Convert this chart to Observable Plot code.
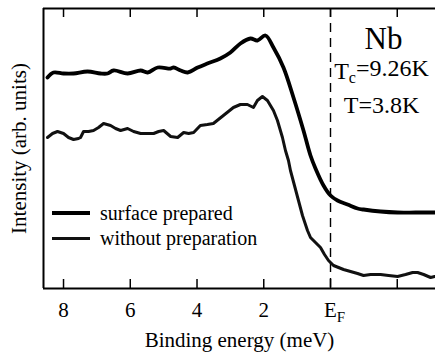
<!DOCTYPE html>
<html><head><meta charset="utf-8">
<script src="https://cdn.jsdelivr.net/npm/d3@7"></script>
<script src="https://cdn.jsdelivr.net/npm/@observablehq/plot@0.6"></script>
<style>
body{margin:0;background:#fff;}
#wrap{position:relative;width:435px;height:353px;font-family:'Liberation Serif',serif;}
#legend{position:absolute;left:52px;top:200.5px;font-size:20px;color:#000;font-family:'Liberation Serif',serif;}
#legend .row{display:flex;align-items:center;height:25px;line-height:25px;white-space:nowrap;}
#legend .sw{width:38px;margin-right:10px;}
</style></head><body><div id="wrap"></div>
<script>
// Binding energy (meV) and intensity (arb. units)
const energySurface = [8.48,8.30,8.00,7.70,7.28,6.89,6.68,6.50,6.08,5.69,5.48,5.18,4.79,4.70,4.49,4.28,3.98,3.69,3.30,3.00,2.70,2.40,2.19,1.95,1.71,1.41,1.11,0.81,0.60,0.45,0.21,0.00,-0.21,-0.51,-0.81,-0.99,-1.50,-2.01,-2.55,-3.12];
const intensitySurface = [211,216,215,215,217,215,215,218,215,218,216,221,220,221,218,216,221,225,230,236,245,250,248,253,241,221,191,158,133,120,103,93,88,84,80,79,77,76,76,76];
const energyRaw = [8.48,8.33,8.18,8.00,7.85,7.70,7.55,7.49,7.40,7.25,7.10,6.95,6.80,6.59,6.44,6.29,6.08,5.90,5.69,5.48,5.30,5.15,5.00,4.79,4.58,4.40,4.25,4.10,3.90,3.69,3.51,3.36,3.21,3.06,2.91,2.70,2.49,2.31,2.19,2.04,1.89,1.71,1.59,1.44,1.35,1.26,1.20,1.08,0.96,0.84,0.69,0.60,0.45,0.30,0.18,0.06,-0.09,-0.24,-0.39,-0.60,-0.81,-0.99,-1.20,-1.50,-1.74,-2.01,-2.25,-2.46,-2.61,-2.79,-3.00,-3.12];
const intensityRaw = [151,155,157,155,151,149,150,151,157,157,158,161,165,163,160,158,160,157,155,155,155,157,158,152,151,156,155,156,163,164,165,169,173,177,181,184,184,181,188,192,188,178,168,151,138,128,118,103,88,73,58,51,46,41,34,28,23,21,19,17,15,13,14,14,13,12,14,16,16,14,11,12];
const xTicks = [8,6,4,2,0,-2];
const xTickLabels = ["8","6","4","2","E",""];
const fermiEnergy = [0];
const seriesNames = ["surface prepared","without preparation"];
const annotationLines = ["Nb","Tc=9.26K","T=3.8K"];
const xDomain = [8.6, -3.146];
const yDomain = [0, 280];

const serif = "'Liberation Serif', serif";
const surface = energySurface.map((e,i)=>({e, v: intensitySurface[i]}));
const raw = energyRaw.map((e,i)=>({e, v: intensityRaw[i]}));
const tickLabel = new Map(xTicks.map((t,i)=>[t, xTickLabels[i]]));

const plot = Plot.plot({
  width:435, height:353,
  marginLeft:43, marginRight:0, marginTop:8, marginBottom:65,
  style:"font-family:'Liberation Serif',serif;font-size:21px;color:#000;background:#fff;overflow:visible;",
  x:{domain:xDomain},
  y:{domain:yDomain},
  marks:[
    Plot.axisX({anchor:"bottom", ticks:xTicks, tickSize:-9, tickPadding:23, strokeWidth:1.5, fontFamily:serif,
      tickFormat:d=>tickLabel.get(d), label:"Binding energy (meV)", labelAnchor:"center", labelArrow:"none", labelOffset:58, fontSize:21}),
    Plot.axisX({anchor:"top", ticks:xTicks, tickSize:-8, strokeWidth:1.5, tickFormat:()=>"", label:null}),
    Plot.axisY({ticks:[], label:"Intensity (arb. units)", labelAnchor:"center", labelArrow:"none", labelOffset:32, fontSize:21, fontFamily:serif}),
    Plot.ruleX([xDomain[0]], {strokeWidth:2}),
    Plot.ruleY(yDomain, {strokeWidth:2}),
    Plot.ruleX(fermiEnergy, {strokeDasharray:"9,6", strokeWidth:1.4}),
    Plot.line(raw, {x:"e", y:"v", stroke:"#111", strokeWidth:3}),
    Plot.line(surface, {x:"e", y:"v", stroke:"#000", strokeWidth:3.8, curve:"catmull-rom"}),
    Plot.text([annotationLines[0]], {frameAnchor:"top-right", dx:-52, dy:40, lineAnchor:"bottom", textAnchor:"middle", fontSize:31, fontFamily:serif}),
    Plot.text([annotationLines[1]], {frameAnchor:"top-right", dx:-54, dy:70, lineAnchor:"bottom", textAnchor:"middle", fontSize:24, fontFamily:serif}),
    Plot.text([annotationLines[2]], {frameAnchor:"top-right", dx:-54, dy:104, lineAnchor:"bottom", textAnchor:"middle", fontSize:24, fontFamily:serif})
  ]
});

// subscripts
d3.select(plot).selectAll("text").each(function(){
  const t = d3.select(this);
  if (this.textContent === "E" && this.childElementCount === 0) {
    t.attr("text-anchor","start").attr("dx","-0.31em");
    t.append("tspan").attr("font-size","15px").attr("dy","0.28em").text("F");
  } else if (this.textContent === "Tc=9.26K") {
    t.text("");
    t.append("tspan").text("T");
    t.append("tspan").attr("font-size","16px").attr("dy","0.3em").text("c");
    t.append("tspan").attr("dy","-0.3em").text("=9.26K");
  }
});

const wrap = document.getElementById("wrap");
wrap.appendChild(plot);
const legend = document.createElement("div");
legend.id = "legend";
const swatchStyles = [
  {h:4, bg:"#000"},
  {h:3, bg:"#111"}
];
seriesNames.forEach((name,i)=>{
  const row = document.createElement("div");
  row.className = "row";
  const sw = document.createElement("span");
  sw.className = "sw";
  sw.style.height = swatchStyles[i].h + "px";
  sw.style.background = swatchStyles[i].bg;
  row.appendChild(sw);
  const tx = document.createElement("span");
  tx.textContent = name;
  row.appendChild(tx);
  legend.appendChild(row);
});
wrap.appendChild(legend);
</script></body></html>
